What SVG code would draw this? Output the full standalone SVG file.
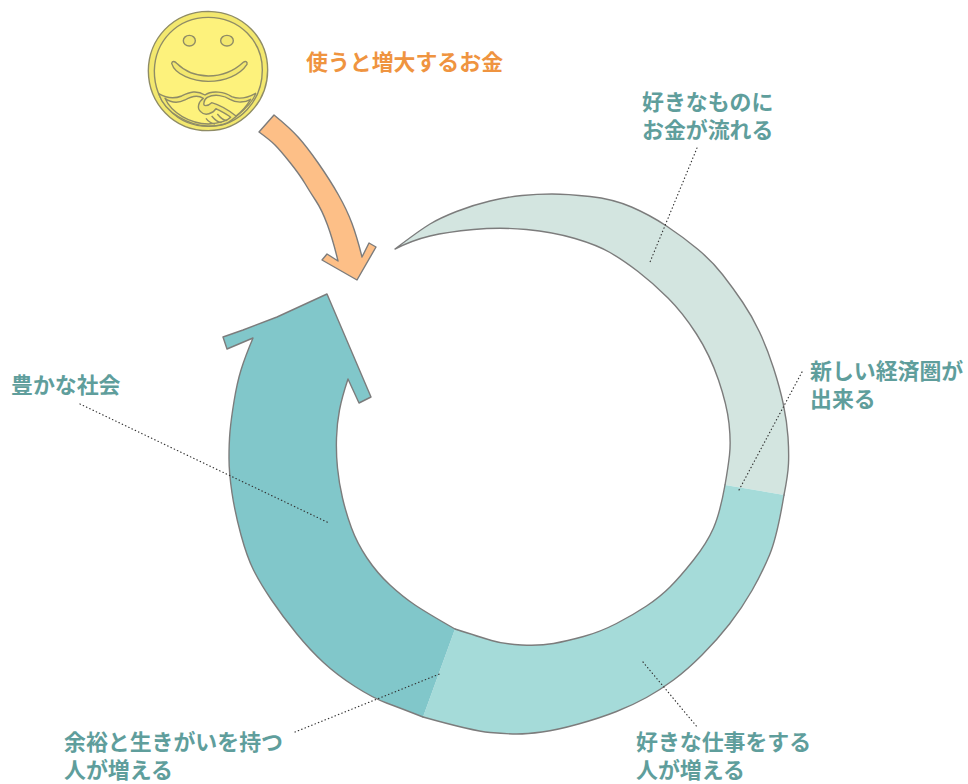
<svg xmlns="http://www.w3.org/2000/svg" width="968" height="784" viewBox="0 0 968 784">
<style>
.e{stroke:#7c7c7c;stroke-width:1.4;stroke-linejoin:round;stroke-linecap:round}
.t{font-family:"Noto Sans CJK JP","Noto Sans",sans-serif;font-weight:700;font-size:21.9px;fill:#5f9e9c}
.o{fill:#ef9440}
.d{fill:none;stroke:#333;stroke-width:1.2;stroke-linecap:round;stroke-dasharray:.4 3.2}
.c{stroke:#8f8c66;stroke-width:4.2;stroke-linejoin:round}
.y{fill:#f3e86e}
.l{fill:#fdf27c}
</style>
<rect width="968" height="784" fill="#fff"/>
<g id="coin" transform="translate(130 10) scale(.3333)">
<path class="c y" d="M55 182C56 90 125 5 235 4C340 6 413 85 413 180C413 280 330 362 235 362C130 362 56 280 55 182Z"/>
<path class="c l" d="M73 182C75 95 140 22 235 22C330 22 397 95 397 180C397 270 330 350 235 349C140 349 73 275 73 182Z"/>
<ellipse class="c y" cx="178" cy="92" rx="18" ry="16"/>
<ellipse class="c y" cx="291" cy="92" rx="19" ry="16"/>
<path class="c y" d="M125 160C127 152 134 153 140 160C170 190 200 198 235 198C275 198 310 185 340 157C346 152 353 155 351 163C330 195 285 214 235 214C190 214 135 195 125 160Z"/>
<path class="c y" d="M86 251C110 265 130 268 155 258C180 245 200 240 225 255C245 240 285 245 305 260C325 268 350 265 377 250C370 275 345 298 318 320L305 330C295 340 270 348 235 348C180 348 105 310 86 251Z"/>
<path class="c l" d="M105 265C125 280 145 280 165 270C185 258 205 255 220 265C205 275 200 295 212 305C225 320 250 310 258 296C275 305 290 312 302 322C290 335 270 340 235 342C180 340 125 310 105 265Z"/>
<path class="c l" d="M232 262C255 250 285 258 300 268C320 280 345 278 362 268C350 288 335 305 318 318C295 300 270 285 245 278C232 290 218 290 222 278C222 270 226 266 232 262Z"/>
<path class="c" fill="none" d="M228 325C235 335 245 340 255 342M245 318C255 330 265 338 275 338M262 312C270 322 282 332 292 332"/>
</g>
<g id="arrow-money">
<path class="e" fill="#fdbf87" d="M274 115Q290 128 298.5 137.5T318.5 163.5T338.5 195T352 223.5T362 257L369 243L376 247L357 280L322 260L327 254L338 261Q333 240 327.5 225T316 201T305 183.5T290 162.5T275 145T259 132Z"/>
</g>
<g id="ring-light">
<path class="e" fill="#d3e5e0" d="M725 485Q728 468 729.5 455T729 423.5T718.5 380T696.5 334T668 298T638 271.5T610 252.5T575 238.5T526.5 229.5T473.5 229.5T430 236T395 249Q420 230 430 224T456.5 211.5T490 201T522 195.5T552 194T590 196.5T631.5 207T666.5 226T697.5 249T722.5 274.5T742.5 302T759.5 332T773.5 368T783.5 405T788 437T788.5 463.5T784 495"/>
</g>
<g id="ring-mid">
<path fill="#a5dbd9" d="M725 485L784 495Q777 537 769.5 555T752 590.5T729.5 624T702 655T673.5 680T646.5 697.5T616.5 711.5T578.5 724T542 732T517 734T490 732.5T423 717L455 629Q480 637 491.5 640.5T521.5 645T553.5 643.5T583.5 636.5T616.5 623.5T646.5 606T670 587T693.5 560T713.5 528T725 485Z"/>
<path class="e" fill="none" d="M784 495Q777 537 769.5 555T752 590.5T729.5 624T702 655T673.5 680T646.5 697.5T616.5 711.5T578.5 724T542 732T517 734T490 732.5T423 717M455 629Q480 637 491.5 640.5T521.5 645T553.5 643.5T583.5 636.5T616.5 623.5T646.5 606T670 587T693.5 560T713.5 528T725 485"/>
</g>
<g id="ring-dark">
<path class="e" fill="#81c7ca" d="M455 629Q427 613 415 605T390 585T367 558T351.5 528T342.5 498T337.5 468T336.5 438T339.5 410T348 379L359 403L371 397L327 294L277 317L243 330L223 337L227 349L253 338Q245 357 241 370T234 401.5T230 431.5T229 458T232 493T241 535T253.5 570T271.5 600T296.5 633.5T323.5 662.5T355 686.5T386.5 703T423 717"/>
</g>
<g id="connectors">
<path class="d" d="M697 148L650 262"/>
<path class="d" d="M802 372L739 490"/>
<path class="d" d="M80 404L329 523"/>
<path class="d" d="M295 732L442 673"/>
<path class="d" d="M643 662L698 728"/>
</g>
<g id="labels">
<text class="t o" x="306" y="70">使うと増大するお金</text>
<text class="t" x="642" y="110">好きなものに</text>
<text class="t" x="642" y="138">お金が流れる</text>
<text class="t" x="810" y="379">新しい経済圏が</text>
<text class="t" x="810" y="407">出来る</text>
<text class="t" x="11" y="393">豊かな社会</text>
<text class="t" x="64" y="750">余裕と生きがいを持つ</text>
<text class="t" x="64" y="778">人が増える</text>
<text class="t" x="636" y="750">好きな仕事をする</text>
<text class="t" x="636" y="778">人が増える</text>
</g>
</svg>
